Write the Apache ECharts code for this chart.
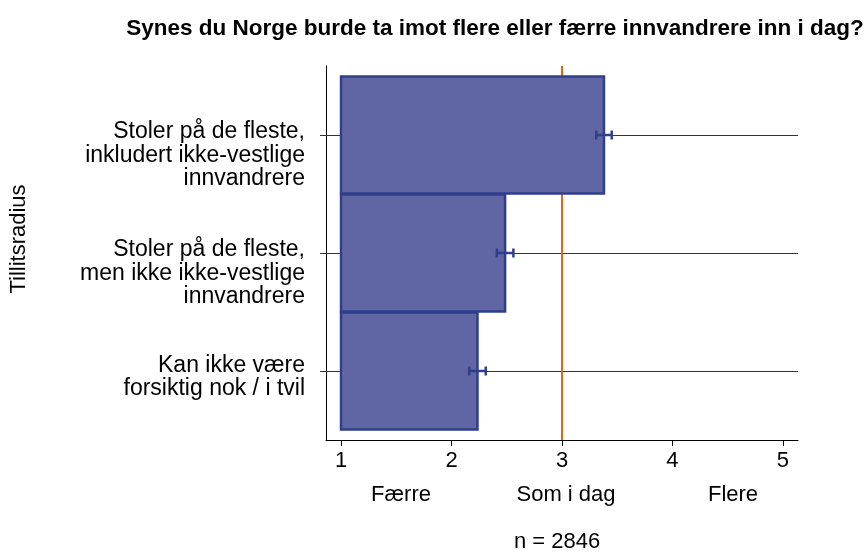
<!DOCTYPE html>
<html>
<head>
<meta charset="utf-8">
<script src="https://cdn.jsdelivr.net/npm/echarts@6/dist/echarts.min.js"></script>
<style>
  html, body { margin: 0; padding: 0; background: #fff; }
  #chart { width: 868px; height: 554px; }
</style>
</head>
<body>
<div id="chart"></div>
<script>
// kategorier (nederst -> øverst) og gjennomsnitt med konfidensintervall
const categories = [
    'Kan ikke være\nforsiktig nok / i tvil',
    'Stoler på de fleste,\nmen ikke ikke-vestlige\ninnvandrere',
    'Stoler på de fleste,\ninkludert ikke-vestlige\ninnvandrere'
];
const means = [2.235, 2.485, 3.38];
const ciLow = [2.16, 2.41, 3.31];
const ciHigh = [2.31, 2.56, 3.45];
const xTicks = [1, 2, 3, 4, 5];
const scaleLabels = ['Færre', 'Som i dag', 'Flere'];
const refValue = 3;
const nObs = 2846;

const font = 'Liberation Sans, Arial, sans-serif';
const barFill = '#6066a4';
const barEdge = '#2f3f8a';

const chart = echarts.init(document.getElementById('chart'));

const barData = means.map((m, i) => [i + 1, m]);
const ciData = means.map((m, i) => [i + 1, ciLow[i], ciHigh[i]]);

function label(text, x, y, size, extra) {
    return Object.assign({
        type: 'text', x: x, y: y,
        style: { text: text, font: size + 'px ' + font, fill: '#000', align: 'center', verticalAlign: 'middle' }
    }, extra || {});
}

var option = {
    animation: false,
    backgroundColor: '#fff',
    title: {
        text: 'Synes du Norge burde ta imot flere eller færre innvandrere inn i dag?',
        left: 490,
        textAlign: 'center',
        top: 12,
        textStyle: { fontFamily: font, fontSize: 22.5, fontWeight: 'bold', color: '#000' }
    },
    grid: { left: 326, right: 70, top: 66, bottom: 114 },
    xAxis: {
        type: 'value',
        min: 0.864,
        max: 5.136,
        axisLine: { show: true, lineStyle: { color: '#000', width: 1 } },
        axisTick: { show: true, customValues: xTicks, length: 6, lineStyle: { color: '#000' } },
        axisLabel: {
            customValues: xTicks,
            fontFamily: font, fontSize: 22, color: '#000', margin: 10,
            formatter: v => String(Math.round(v))
        },
        splitLine: { show: false }
    },
    yAxis: {
        type: 'value',
        min: 0.415,
        max: 3.585,
        axisLine: { show: true, lineStyle: { color: '#000', width: 1 } },
        axisTick: { show: true, customValues: [1, 2, 3], length: 6, lineStyle: { color: '#000' } },
        axisLabel: {
            customValues: [0.949, 1.826, 2.826],
            fontFamily: font, fontSize: 23, color: '#000', margin: 21,
            lineHeight: 23.5, align: 'right',
            formatter: v => categories[Math.round(v) - 1]
        },
        splitLine: { show: false }
    },
    graphic: [
        label('Tillitsradius', 19, 239, 22, { rotation: Math.PI / 2 }),
        label(scaleLabels[0], 401, 495, 22),
        label(scaleLabels[1], 566, 495, 22),
        label(scaleLabels[2], 733, 495, 22),
        label('n = ' + nObs, 557, 542, 22)
    ],
    series: [
        {
            // horisontale rutenettlinjer
            type: 'custom',
            z: 1,
            silent: true,
            data: barData,
            renderItem: (params, api) => {
                const y = api.value(0);
                const a = api.coord([0.864, y]);
                const b = api.coord([5.136, y]);
                const py = Math.round(a[1]) + 0.5;
                return {
                    type: 'line',
                    shape: { x1: a[0] - 6, y1: py, x2: b[0], y2: py },
                    style: { stroke: '#333', lineWidth: 1 }
                };
            }
        },
        {
            // referanselinje ved "Som i dag"
            type: 'custom',
            z: 2,
            silent: true,
            data: [[refValue]],
            renderItem: (params, api) => {
                const a = api.coord([api.value(0), 0.415]);
                const b = api.coord([api.value(0), 3.585]);
                return {
                    type: 'line',
                    shape: { x1: a[0], y1: a[1], x2: b[0], y2: b[1] },
                    style: { stroke: '#e0661c', lineWidth: 2 }
                };
            }
        },
        {
            type: 'custom',
            z: 3,
            data: barData,
            encode: { x: 1, y: 0 },
            renderItem: (params, api) => {
                const y = api.value(0);
                const p0 = api.coord([1, y + 0.495]);
                const p1 = api.coord([api.value(1), y - 0.495]);
                return {
                    type: 'rect',
                    shape: { x: p0[0], y: p0[1], width: p1[0] - p0[0], height: p1[1] - p0[1] },
                    style: { fill: barFill, stroke: barEdge, lineWidth: 2.5 }
                };
            }
        },
        {
            type: 'custom',
            z: 4,
            data: ciData,
            encode: { x: [1, 2], y: 0 },
            renderItem: (params, api) => {
                const y = api.value(0);
                const lo = api.coord([api.value(1), y]);
                const hi = api.coord([api.value(2), y]);
                const h = 4.5;
                const st = { stroke: barEdge, lineWidth: 2.5 };
                return {
                    type: 'group',
                    children: [
                        { type: 'line', shape: { x1: lo[0], y1: lo[1], x2: hi[0], y2: hi[1] }, style: st },
                        { type: 'line', shape: { x1: lo[0], y1: lo[1] - h, x2: lo[0], y2: lo[1] + h }, style: st },
                        { type: 'line', shape: { x1: hi[0], y1: hi[1] - h, x2: hi[0], y2: hi[1] + h }, style: st }
                    ]
                };
            }
        }
    ]
};
chart.setOption(option);
</script>
</body>
</html>
